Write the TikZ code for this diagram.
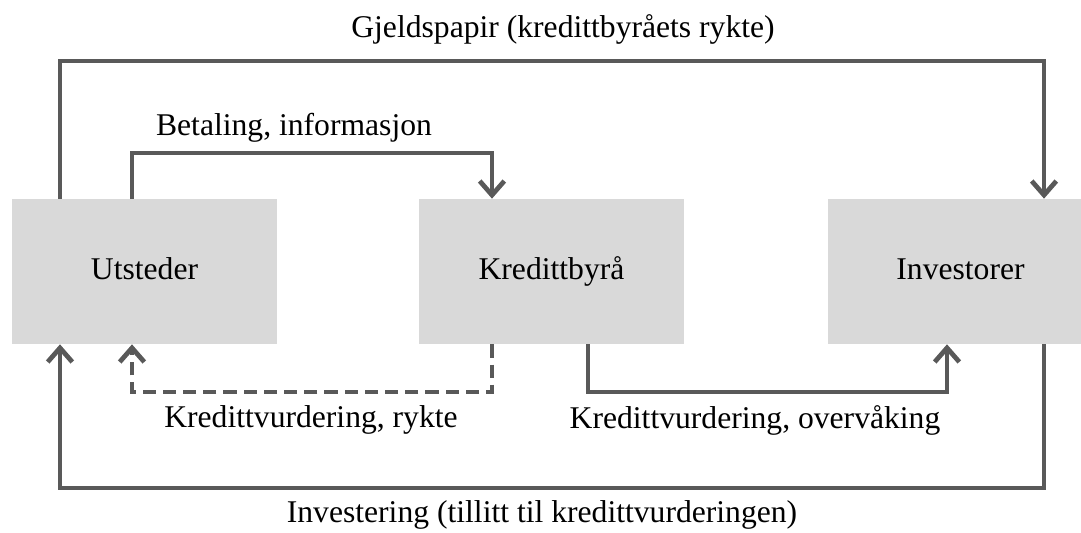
\documentclass[tikz,border=0pt]{standalone}
\usepackage{fontspec}
\setmainfont{Liberation Serif}
\usepackage{tikz}
\usetikzlibrary{arrows.meta}

\definecolor{boxgray}{HTML}{D9D9D9}
\definecolor{linegray}{HTML}{595959}

\tikzset{
    party/.style={fill=boxgray,minimum width=5.32cm,minimum height=2.9cm,inner sep=0pt,text height=13pt,text depth=4pt},
    flow/.style={linegray,line width=2.7pt,-{Straight Barb[length=8pt,width=14pt]}},
    lbl/.style={inner sep=0pt}
}

\begin{document}
\begin{tikzpicture}[x=0.02cm,y=-0.02cm,font=\fontsize{18}{21}\selectfont]
            \useasboundingbox (0,0) rectangle (1081,533);
            \node[party] (uts) at (144.5,271.5) {Utsteder};
            \node[party] (kre) at (551.5,271.5) {Kredittbyrå};
            \node[party] (inv) at (960.5,271.5) {Investorer};
            % turning points
            \coordinate (topL) at (60,61);
            \coordinate (topR) at (1044,61);
            \coordinate (payL) at (132,153);
            \coordinate (payR) at (492,153);
            \coordinate (ratR) at (492,392);
            \coordinate (ratL) at (132,392);
            \coordinate (monL) at (588,392);
            \coordinate (monR) at (947,392);
            \coordinate (botR) at (1044,488);
            \coordinate (botL) at (60,488);
            \draw[flow] (uts.north -| topL) -- (topL) -- (topR) -- (inv.north -| topR);
            \draw[flow] (uts.north -| payL) -- (payL) -- (payR) -- (kre.north -| payR);
            \draw[flow,dash pattern=on 7.5pt off 4pt] (kre.south -| ratR) -- (ratR) -- (ratL) -- (uts.south -| ratL);
            \draw[flow] (kre.south -| monL) -- (monL) -- (monR) -- (inv.south -| monR);
            \draw[flow] (inv.south -| botR) -- (botR) -- (botL) -- (uts.south -| botL);
            \node[lbl] (debt) at (563,29) {Gjeldspapir (kredittbyråets rykte)};
            \node[lbl] (pay) at (294,128) {Betaling, informasjon};
            \node[lbl] (rating) at (311,420) {Kredittvurdering, rykte};
            \node[lbl] (monitor) at (755,420) {Kredittvurdering, overvåking};
            \node[lbl] (invest) at (542,515) {Investering (tillitt til kredittvurderingen)};
        \end{tikzpicture}
\end{document}
